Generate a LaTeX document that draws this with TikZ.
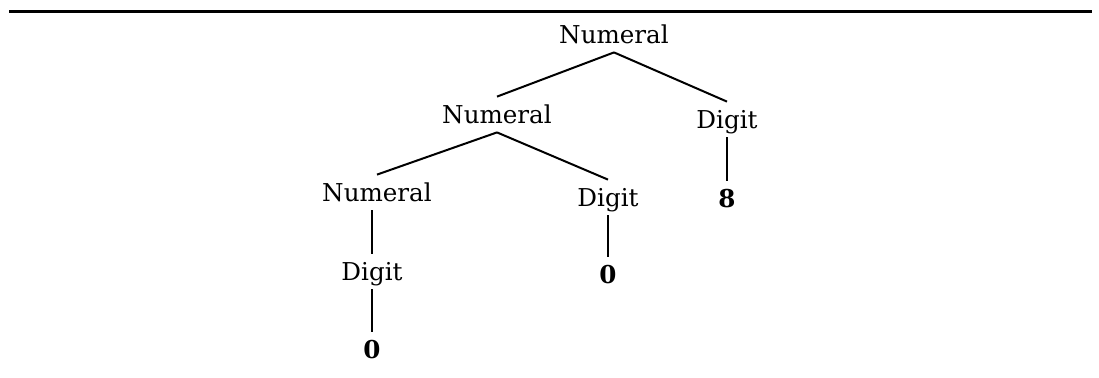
\documentclass[tikz,border=0pt]{standalone}
\usepackage{fontspec}
\setmainfont{DejaVu Serif}
\usetikzlibrary{positioning}

\begin{document}
\begin{tikzpicture}[x=0.5pt,y=-0.5pt,
  cat/.style={anchor=base,inner xsep=2pt,inner ysep=4.5pt,text height=8.5pt,text depth=0pt,font=\fontsize{12.3pt}{14pt}\selectfont},
  leaf/.style={cat,font=\fontsize{12.3pt}{14pt}\selectfont\bfseries},
  edge/.style={line width=1pt}]
  \useasboundingbox (0,0) rectangle (1099,377);
  % Rule
  \draw[line width=1.6pt] (9,11.5) -- (1092,11.5);
  % Nodes
  \node[cat] (root) at (614,43) {Numeral};
  \node[cat] (numA) at (497,123) {Numeral};
  \node[cat] (digA) at (727,128) {Digit};
  \node[leaf] (eight) at (727,207) {8};
  \node[cat] (numB) at (377,201) {Numeral};
  \node[cat] (digB) at (608,206) {Digit};
  \node[leaf] (zeroB) at (608,283) {0};
  \node[cat] (digC) at (372,280) {Digit};
  \node[leaf] (zeroC) at (372,358) {0};
  % Edges
  \foreach \a/\b in {root/numA,root/digA,numA/numB,numA/digB}
    \draw[edge] (\a.south) -- (\b.north);
  \draw[edge] (digA.south) -- (eight.north);
  \draw[edge] (digB.south) -- (zeroB.north);
  \draw[edge] (numB.south -| digC) -- (digC.north);
  \draw[edge] (digC.south) -- (zeroC.north);
\end{tikzpicture}
\end{document}
